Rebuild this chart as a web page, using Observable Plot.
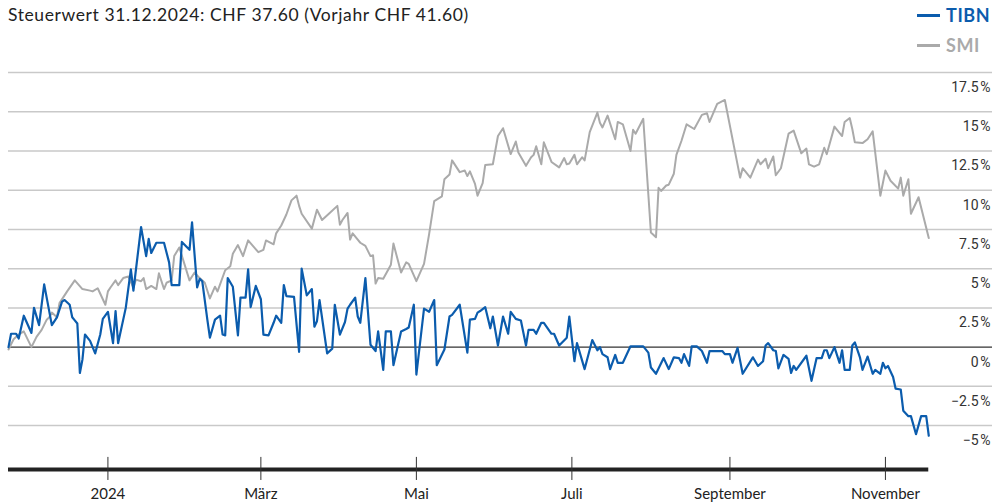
<!DOCTYPE html>
<html>
<head>
<meta charset="utf-8">
<script src="https://cdn.jsdelivr.net/npm/d3@7"></script>
<script src="https://cdn.jsdelivr.net/npm/@observablehq/plot@0.6"></script>
<style>
  html, body { margin: 0; padding: 0; background: #fff; }
  body { width: 992px; height: 503px; overflow: hidden; font-family: Lato, "Open Sans", sans-serif; }
  #head { position: relative; height: 58px; }
  #title { position: absolute; left: 8px; top: 4px; font-size: 17.5px; letter-spacing: 0.6px; color: #222; white-space: nowrap; }
  .lg-line { position: absolute; left: 917px; width: 23px; height: 3px; }
  .lg-text { position: absolute; left: 946px; font-size: 18px; letter-spacing: 0.6px; font-weight: 700; line-height: 18px; }
</style>
</head>
<body>
<div id="head">
  <div id="title">Steuerwert 31.12.2024: CHF 37.60 (Vorjahr CHF 41.60)</div>
  <div class="lg-line" style="top:14px;background:#0b5cad"></div>
  <div class="lg-text" style="top:6px;color:#0b5cad">TIBN</div>
  <div class="lg-line" style="top:44px;background:#aaaaaa"></div>
  <div class="lg-text" style="top:36px;color:#aaaaaa">SMI</div>
</div>
<div id="chart"></div>
<script>
// Days counted from 1 January 2024 (negative = 2023)
const tibnDays = [
  -39,-38,-36,-35,-33,-30,-29,-27,-25,-22,
  -20,-18,-17,-15,-14,-13,-12,-11,-10,-9,
  -7,-5,-3,-2,0,2,3,4,7,9,
  10,13,15,16,17,19,22,24,25,28,
  29,32,33,35,36,37,39,40,42,44,
  45,46,47,49,51,52,54,55,56,58,
  60,61,63,65,66,68,69,70,73,75,
  76,78,80,81,82,83,86,88,89,91,
  93,94,95,97,98,99,101,103,105,106,
  108,109,111,112,115,117,118,120,121,124,
  126,128,129,132,134,135,138,141,142,144,
  145,146,148,150,151,153,155,157,158,160,
  162,164,165,167,168,170,171,174,175,177,
  180,181,183,184,187,190,192,193,194,196,
  197,199,200,202,205,210,212,213,215,218,
  220,222,224,225,226,228,229,231,233,235,
  236,237,241,242,244,245,247,249,253,255,
  257,258,259,261,262,263,265,267,268,269,
  270,274,276,278,280,281,282,283,285,287,
  288,289,291,292,293,295,296,298,300,301,
  303,304,305,306,308,309,311,312,314,315,
  317,319,321,322
];
const tibnValues = [
  0,0.85,0.85,0.55,2.0,0.9,2.5,1.4,4.0,1.4,
  1.9,2.9,3.0,2.7,1.9,1.7,1.5,-1.65,-0.8,0.8,
  0.4,-0.4,0.8,1.8,2.25,0.25,2.3,0.25,2.5,4.95,
  3.6,7.65,5.8,6.9,6.0,6.65,6.65,5.4,3.95,3.95,
  6.7,6.2,7.95,3.8,4.35,4.2,1.75,0.6,1.75,2.0,
  0.8,0.75,4.4,3.85,0.75,3.15,3.15,4.95,2.55,3.9,
  3.05,0.8,0.75,1.55,2.0,1.55,3.95,3.25,3.2,-0.3,
  5.0,3.3,3.7,1.3,1.65,3.0,-0.4,-0.1,2.7,0.8,
  1.6,2.45,2.7,3.15,1.95,1.55,4.4,0.15,-0.25,1.0,
  -1.45,1.0,1.0,-1.15,1.0,1.15,1.25,2.7,-1.75,2.45,
  2.25,3.0,-1.15,-0.15,1.95,2.05,2.7,-0.35,1.75,1.8,
  2.2,2.3,2.55,1.2,1.95,0.1,1.95,0.85,2.25,1.8,
  1.7,0.1,1.1,1.1,0.85,1.55,1.55,0.85,0.85,0.1,
  0.6,1.95,-0.9,0.25,-1.4,0.45,-0.2,0.0,-0.45,-0.65,
  -1.4,-0.5,-1.0,-1.0,0.05,0.05,-0.35,-1.3,-1.7,-0.7,
  -1.4,-0.65,-0.7,-1.0,-0.45,-1.2,0.05,0.05,-0.25,-1.0,
  -0.25,-0.25,-0.25,-0.45,-0.45,-1.0,-0.05,-1.7,-0.65,-1.2,
  -0.9,0.1,0.25,-0.2,-0.25,-1.35,-0.5,-0.75,-1.65,-1.2,
  -1.45,-0.55,-2.15,-0.7,-0.7,-0.2,-0.2,-0.7,0.0,-1.0,
  -0.2,-1.45,-1.45,0.1,0.3,-0.65,-1.45,-0.6,-1.7,-1.45,
  -1.7,-1.0,-1.35,-1.2,-1.9,-2.65,-2.7,-4.05,-4.4,-4.4,
  -5.55,-4.4,-4.4,-5.65
];
const smiDays = [
  -39,-37,-35,-33,-30,-28,-26,-24,-23,-22,
  -20,-19,-16,-13,-10,-7,-6,-4,-1,0,
  1,3,4,6,8,10,11,13,14,15,
  17,19,20,22,23,25,26,28,32,34,
  36,38,40,42,43,46,48,49,51,53,
  55,59,61,62,65,66,68,70,72,74,
  75,76,80,82,84,87,90,91,92,94,
  95,96,98,99,101,103,104,105,106,108,
  110,111,112,115,117,118,121,124,126,128,
  131,132,134,135,138,140,141,142,144,145,
  147,148,151,153,155,158,160,161,164,166,
  167,168,170,171,174,177,179,180,181,183,
  184,186,187,189,192,193,194,196,199,200,
  202,205,206,207,210,213,215,216,217,219,
  220,222,223,225,227,230,233,235,236,239,
  242,248,249,252,255,256,258,259,261,262,
  264,267,269,272,274,275,277,279,281,282,
  285,288,289,291,292,293,296,298,300,303,
  305,307,310,311,312,314,315,318,322
];
const smiValues = [
  -0.15,0.5,0.8,1.0,0.0,0.65,1.1,1.75,1.9,2.2,
  1.9,2.8,3.55,4.25,3.7,3.6,3.55,3.75,2.7,3.55,
  3.8,4.25,3.95,4.4,4.5,3.8,4.3,4.2,4.4,3.7,
  3.9,3.7,4.7,3.7,4.1,4.25,5.8,6.35,4.25,4.75,
  4.4,4.1,3.1,3.85,3.55,4.9,5.15,5.95,6.5,5.8,
  6.8,6.05,6.2,6.8,6.55,7.25,7.75,8.45,9.35,9.65,
  9.0,8.5,7.55,8.75,8.1,8.55,9.0,7.8,8.1,8.55,
  6.85,7.25,6.85,6.65,6.45,5.8,5.85,4.05,4.4,4.35,
  4.95,5.25,6.6,4.75,5.4,5.3,4.2,5.3,7.2,9.3,
  9.6,10.7,11.0,11.9,11.15,11.25,10.9,11.2,10.4,9.65,
  10.45,11.6,11.65,13.45,13.95,12.3,13.1,12.4,11.55,12.1,
  12.25,12.8,11.65,13.05,11.8,11.45,12.05,11.65,11.7,12.25,
  11.65,12.1,11.9,13.7,14.95,14.3,14.0,14.75,13.25,14.35,
  14.2,12.5,13.85,13.6,14.55,7.3,7.0,10.15,9.95,10.3,
  10.35,11.05,12.25,13.15,14.2,13.9,14.8,14.9,14.35,15.5,
  15.75,10.8,11.4,10.8,11.95,11.65,12.0,11.4,12.15,10.95,
  11.4,13.6,13.8,12.35,12.65,11.65,11.5,11.65,12.7,12.3,
  14.05,13.45,14.35,14.6,13.9,13.05,13.0,13.25,13.75,9.65,
  11.25,10.6,10.1,10.8,9.65,10.7,8.5,9.55,6.95
];
const yTicks = [-5, -2.5, 0, 2.5, 5, 7.5, 10, 12.5, 15, 17.5];
const xTickDays = [0, 60, 121, 182, 244, 305];
const xTickLabels = ["2024", "März", "Mai", "Juli", "September", "November"];
const seriesNames = ["TIBN", "SMI"];
const seriesColors = ["#0b5cad", "#aaaaaa"];

const START = Date.UTC(2024, 0, 1);
const toDate = d => new Date(START + d * 864e5);
const Y_MIN = -7.8, Y_MAX = 17.5;
const xDomain = [toDate(-39), toDate(347)];
const firstDate = toDate(Math.min(tibnDays[0], smiDays[0]));
const lastDate = toDate(Math.max(tibnDays[tibnDays.length - 1], smiDays[smiDays.length - 1]));

const mk = (days, vals) => days.slice(0, Math.min(days.length, vals.length)).map((d, i) => ({date: toDate(d), value: vals[i]}));
const tibn = mk(tibnDays, tibnValues);
const smi = mk(smiDays, smiValues);
const tickDates = xTickDays.map(toDate);
const labelOf = new Map(tickDates.map((d, i) => [+d, xTickLabels[i]]));
const fmt = v => (v < 0 ? "\u2212" : "") + String(Math.abs(v)) + "\u202F%";

const chart = Plot.plot({
  width: 992,
  height: 445,
  marginLeft: 8,
  marginRight: 0,
  marginTop: 14,
  marginBottom: 34,
  style: {fontFamily: "Lato, sans-serif", fontSize: "15px", color: "#333", background: "#fff", overflow: "visible"},
  x: {type: "utc", domain: xDomain, axis: null},
  y: {domain: [Y_MIN, Y_MAX], axis: null},
  marks: [
    Plot.ruleY(yTicks.filter(v => v !== 0), {stroke: "#c9c9c9", strokeWidth: 1.5}),
    Plot.ruleY([0], {stroke: "#333", strokeWidth: 1.2}),
    Plot.text(yTicks, {x: () => xDomain[1], y: d => d, text: fmt, textAnchor: "end", dy: 15, dx: -2,
      fontSize: 14, fill: "#333", fontFamily: "Roboto, sans-serif"}),
    Plot.lineY(smi, {x: "date", y: "value", stroke: seriesColors[1], strokeWidth: 2, strokeLinejoin: "round"}),
    Plot.lineY(tibn, {x: "date", y: "value", stroke: seriesColors[0], strokeWidth: 2.2, strokeLinejoin: "round"}),
    Plot.ruleY([Y_MIN], {x1: () => firstDate, x2: () => lastDate, stroke: "#222", strokeWidth: 4}),
    Plot.ruleX(tickDates, {x: d => d, y1: Y_MIN + 0.77, y2: Y_MIN - 0.7, stroke: "#333", strokeWidth: 1}),
    Plot.axisX({ticks: tickDates, tickFormat: d => labelOf.get(+d), tickSize: 0, tickPadding: 19, fontSize: 15, fill: "#222"})
  ]
});
document.getElementById("chart").appendChild(chart);
</script>
</body>
</html>
